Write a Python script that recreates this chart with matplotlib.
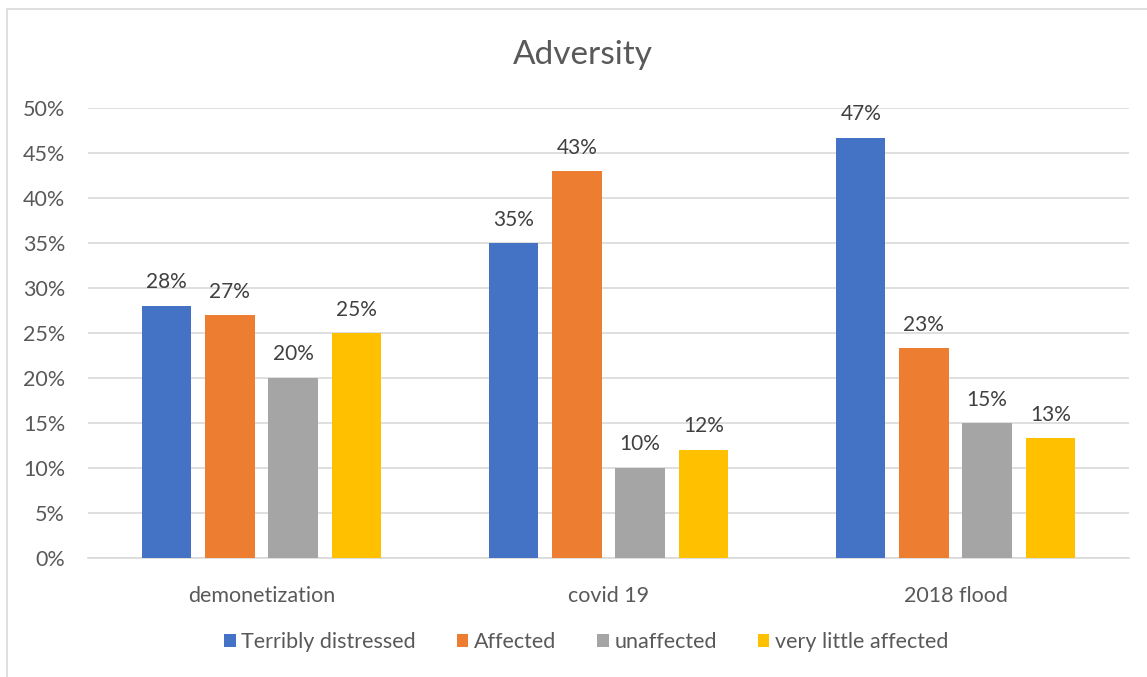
import numpy as np
import matplotlib.pyplot as plt
from matplotlib.patches import Rectangle

plt.rcParams['font.family'] = ['Lato', 'DejaVu Sans']

categories = ['demonetization', 'covid 19', '2018 flood']
series_names = ['Terribly distressed', 'Affected', 'unaffected', 'very little affected']
terribly_distressed = [28, 35, 46.7]
affected = [27, 43, 23.3]
unaffected = [20, 10, 15]
very_little_affected = [25, 12, 13.3]
y_ticks = [0, 5, 10, 15, 20, 25, 30, 35, 40, 45, 50]

colors = ['#4472C4', '#ED7D31', '#A5A5A5', '#FFC000']
text_color = '#595959'


def main():
    fig = plt.figure(figsize=(11.47, 6.77), dpi=100)
    # outer chart frame
    fig.patches.append(Rectangle((7 / 1147, -0.01), 1.2, 1 - 9 / 677 + 0.01,
                                 transform=fig.transFigure, fill=False,
                                 edgecolor='#d9d9d9', linewidth=1.2))

    ax = fig.add_axes([88 / 1147, 1 - 558 / 677, (1129 - 88) / 1147, (558 - 108) / 677])

    data = [terribly_distressed, affected, unaffected, very_little_affected]
    x = np.arange(len(categories))
    width = 0.142
    step = 0.182
    for i, (name, vals) in enumerate(zip(series_names, data)):
        pos = x + (i - 1.5) * step
        bars = ax.bar(pos, vals, width, color=colors[i], label=name, zorder=3)
        for b, v in zip(bars, vals):
            ax.text(b.get_x() + b.get_width() / 2, v + 1.5, f'{v:.0f}%',
                    ha='center', va='bottom', fontsize=15, color='#404040')

    ax.set_xlim(-0.5, 2.5)
    ax.set_ylim(0, 50)
    ax.set_yticks(y_ticks)
    ax.set_yticklabels([f'{t}%' for t in y_ticks])
    ax.set_xticks(x)
    ax.set_xticklabels(categories)
    ax.tick_params(axis='both', length=0, labelsize=15.5, colors=text_color)
    ax.tick_params(axis='y', pad=16.5)
    ax.tick_params(axis='x', pad=20)
    ax.grid(axis='y', color='#d9d9d9', linewidth=1.2, zorder=0)
    for s in ['top', 'right', 'left']:
        ax.spines[s].set_visible(False)
    ax.spines['bottom'].set_color('#d9d9d9')
    ax.spines['bottom'].set_linewidth(1.2)

    fig.text(583 / 1147, 1 - 55 / 677, 'Adversity', ha='center', va='center',
             fontsize=24, color=text_color)

    fig.legend(loc='center', bbox_to_anchor=(586 / 1147, 1 - 642 / 677), ncol=4,
               frameon=False, fontsize=15.5, labelcolor=text_color,
               handlelength=0.55, handleheight=0.55, handletextpad=0.25,
               columnspacing=1.9)

    fig.savefig('out.png', dpi=100)


if __name__ == "__main__":
    main()
